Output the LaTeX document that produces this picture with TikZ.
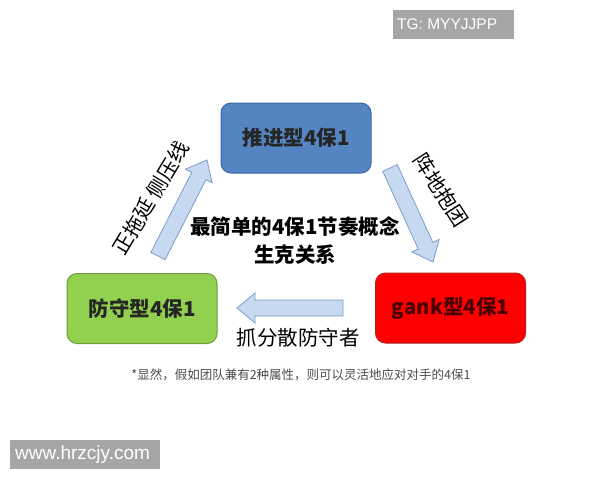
\documentclass[tikz,border=0pt]{standalone}
\usepackage{fontspec}
\setmainfont{Noto Sans CJK SC}
\newfontfamily\latinsans{Liberation Sans}
\usetikzlibrary{calc}
\definecolor{boxblue}{HTML}{5485C2}
\definecolor{boxblueline}{HTML}{3C679C}
\definecolor{boxgreen}{HTML}{92D050}
\definecolor{boxgreenline}{HTML}{6F9B3E}
\definecolor{boxred}{HTML}{FF0000}
\definecolor{boxredline}{HTML}{B02020}
\definecolor{arrowfill}{HTML}{C6D9F1}
\definecolor{arrowline}{HTML}{7F9CC8}
\definecolor{markgray}{HTML}{A6A6A6}
\definecolor{redtext}{HTML}{4A0000}
\tikzset{
  typebox/.style={rounded corners=10pt, line width=1pt, minimum width=150pt, minimum height=70pt,
    inner sep=0pt, font=\fontsize{20.5}{24}\selectfont\bfseries},
  barrow/.style={fill=arrowfill, draw=arrowline, line width=0.8pt, line join=miter},
  lbl/.style={font=\fontsize{20.5}{24}\selectfont, inner sep=0pt},
  watermark/.style={fill=markgray, text=white, inner sep=0pt, align=left},
}
\newcommand\blockarrow[2]{%
  \coordinate (bah) at ($(#2)!18pt!(#1)$);
  \draw[barrow] ($(#1)!8pt!90:(#2)$) -- ($(bah)!8pt!-90:(#1)$) -- ($(bah)!15pt!-90:(#1)$) -- (#2)
    -- ($(bah)!15pt!90:(#1)$) -- ($(bah)!8pt!90:(#1)$) -- ($(#1)!8pt!-90:(#2)$) -- cycle;
}
\begin{document}
\begin{tikzpicture}[x=1pt,y=-1pt]
\useasboundingbox (0,0) rectangle (600,480);
\fill[white] (0,0) rectangle (600,480);
% watermark boxes
\node[watermark, minimum width=121pt, minimum height=29pt] (tg) at (453.5,24.5) {};
\node[anchor=west, text=white, inner sep=0pt, font=\latinsans\fontsize{15.5}{18}\selectfont] (tgt) at (397,24.5) {TG: MYYJJPP};
\node[watermark, minimum width=150pt, minimum height=29pt] (www) at (85,454.5) {};
\node[anchor=west, text=white, inner sep=0pt, font=\latinsans\fontsize{19}{22}\selectfont] (wwwt) at (15,454.5) {www.hrzcjy.com};
% main boxes
\node[typebox, fill=boxblue, draw=boxblueline, text=black!85] (push) at (296,138) {推进型4保1};
\node[typebox, fill=boxgreen, draw=boxgreenline, text=black!85] (def) at (142,308.5) {防守型4保1};
\node[typebox, fill=boxred, draw=boxredline, text=redtext] (gank) at (450.5,308) {gank型4保1};
% centre text
\node[font=\fontsize{20.5}{24}\selectfont\bfseries, inner sep=0pt] (title) at (295,227) {最简单的4保1节奏概念};
\node[font=\fontsize{20.5}{24}\selectfont\bfseries, inner sep=0pt] (sub) at (295,255) {生克关系};
% block arrows
\coordinate (la) at (158,256);
\coordinate (lb) at (207,160);
\blockarrow{la}{lb}
\coordinate (ra) at (390,168);
\coordinate (rb) at (433,262);
\blockarrow{ra}{rb}
\coordinate (ha) at (343,308);
\coordinate (hb) at (237,308);
\blockarrow{ha}{hb}
% arrow labels
\node[lbl, rotate=59] (lt) at (151,198) {正拖延 侧压线};
\node[lbl, rotate=-57] (rt) at (441,190) {阵地抱团};
\node[lbl] (bt) at (298,338) {抓分散防守者};
% footnote
\node[font=\fontsize{12.5}{15}\selectfont, text=black!70, inner sep=0pt] (note) at (301,375) {*显然，假如团队兼有2种属性，则可以灵活地应对对手的4保1};
\end{tikzpicture}
\end{document}
